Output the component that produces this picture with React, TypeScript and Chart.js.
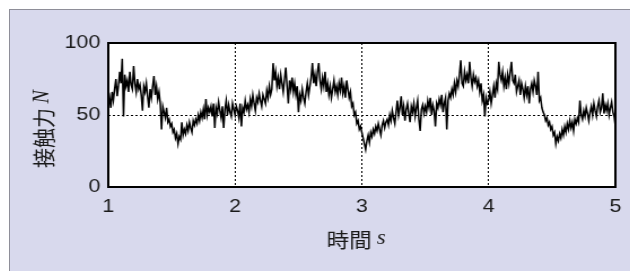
import React, { useEffect, useRef } from "react";
import { Chart, registerables } from "chart.js";

Chart.register(...registerables);

// sample grid of the recorded signal (seconds)
const T_START = 1;
const T_STEP = 0.01;

// contact force [N], every 0.01 s from 1.00 s to 5.00 s (one row = 0.1 s)
const forceN: number[] = [
  57, 62, 55, 66, 60, 68, 75, 63, 70, 80,
  72, 89, 49, 78, 70, 74, 66, 80, 71, 68,
  84, 72, 66, 75, 68, 71, 64, 53, 70, 66,
  72, 63, 55, 68, 62, 70, 77, 64, 70, 61,
  66, 58, 40, 56, 52, 48, 55, 45, 47, 42,
  44, 38, 40, 34, 37, 30, 35, 33, 45, 36,
  40, 37, 43, 39, 45, 41, 38, 46, 43, 47,
  44, 50, 46, 52, 48, 54, 47, 61, 50, 55,
  52, 56, 49, 58, 41, 55, 51, 59, 53, 48,
  56, 41, 54, 60, 50, 57, 52, 49, 58, 54,
  50, 56, 53, 48, 58, 42, 55, 52, 60, 54,
  57, 52, 61, 56, 64, 58, 53, 62, 59, 65,
  60, 56, 64, 61, 58, 67, 62, 70, 64, 68,
  86, 74, 80, 70, 76, 68, 78, 72, 66, 75,
  83, 70, 58, 74, 68, 76, 66, 72, 64, 70,
  52, 64, 60, 68, 62, 58, 66, 72, 64, 70,
  76, 86, 72, 78, 70, 80, 86, 74, 68, 76,
  70, 80, 66, 72, 64, 70, 62, 68, 74, 66,
  70, 64, 72, 67, 76, 65, 70, 62, 74, 68,
  62, 66, 56, 58, 50, 52, 44, 46, 40, 42,
  38, 34, 30, 26, 32, 36, 31, 38, 35, 40,
  37, 42, 39, 44, 40, 36, 43, 46, 41, 45,
  47, 43, 50, 46, 53, 48, 44, 52, 60, 50,
  55, 63, 50, 56, 46, 54, 58, 51, 45, 56,
  52, 58, 49, 55, 60, 47, 39, 54, 57, 51,
  56, 52, 60, 55, 62, 50, 57, 53, 42, 58,
  55, 61, 57, 64, 52, 58, 62, 40, 60, 65,
  62, 68, 64, 72, 66, 74, 70, 78, 88, 72,
  70, 80, 74, 78, 72, 87, 76, 70, 78, 73,
  76, 70, 74, 66, 72, 60, 64, 49, 62, 58,
  60, 66, 58, 64, 70, 62, 72, 68, 87, 78,
  74, 80, 70, 76, 68, 78, 72, 80, 87, 74,
  72, 78, 66, 70, 74, 64, 72, 68, 62, 70,
  64, 70, 58, 68, 72, 66, 74, 70, 64, 80,
  60, 62, 55, 52, 50, 46, 48, 43, 45, 40,
  42, 36, 38, 30, 35, 32, 37, 34, 40, 36,
  42, 38, 44, 40, 46, 41, 45, 39, 47, 44,
  48, 45, 60, 50, 47, 53, 49, 55, 51, 46,
  52, 56, 50, 58, 53, 49, 56, 60, 52, 55,
  65, 51, 57, 53, 58, 50, 55, 59, 52, 49,
  42,
];

const xTicks = [1, 2, 3, 4, 5];
const yTicks = [0, 50, 100];
const xGridMarks = [2, 3, 4];
const yGridMarks = [50];

const yTitleCJK = "接触力";
const yTitleVar = "N";
const xTitleCJK = "時間";
const xTitleVar = "s";

// the figure is shown horizontally stretched
const SX = 1.13;
const CSS_W = 628;
const CSS_H = 261;
const CANVAS_W = Math.round(CSS_W / SX);

const CJK_FONT = '20px "Noto Sans CJK JP", sans-serif';
const VAR_FONT = 'italic 20px "Liberation Serif", "DejaVu Serif", serif';

const titlesPlugin = {
  id: "mixedTitles",
  afterDraw(chart: any) {
    const { ctx, chartArea } = chart;
    const a = chartArea;
    ctx.save();
    ctx.fillStyle = "#1a1a1a";
    ctx.textBaseline = "middle";
    ctx.textAlign = "left";
    // x title
    ctx.font = CJK_FONT;
    const w1 = ctx.measureText(xTitleCJK + " ").width;
    ctx.font = VAR_FONT;
    const w2 = ctx.measureText(xTitleVar).width;
    const cx = (a.left + a.right) / 2 - 5;
    const cy = a.bottom + 53;
    let x0 = cx - (w1 + w2) / 2;
    ctx.font = CJK_FONT;
    ctx.fillText(xTitleCJK + " ", x0, cy);
    ctx.font = VAR_FONT;
    ctx.fillText(xTitleVar, x0 + w1, cy - 1);
    // y title (rotated)
    ctx.font = CJK_FONT;
    const v1 = ctx.measureText(yTitleCJK + " ").width;
    ctx.font = VAR_FONT;
    const v2 = ctx.measureText(yTitleVar).width;
    ctx.translate(a.left - 57, (a.top + a.bottom) / 2 + 14);
    ctx.rotate(-Math.PI / 2);
    x0 = -(v1 + v2) / 2;
    ctx.font = CJK_FONT;
    ctx.fillText(yTitleCJK + " ", x0, 0);
    ctx.font = VAR_FONT;
    ctx.fillText(yTitleVar, x0 + v1, -1);
    ctx.restore();
  },
};

const framePlugin = {
  id: "plotFrame",
  beforeDraw(chart: any) {
    const { ctx, chartArea: a } = chart;
    ctx.save();
    ctx.fillStyle = "#ffffff";
    ctx.fillRect(a.left, a.top, a.right - a.left, a.bottom - a.top);
    ctx.restore();
  },
  afterDraw(chart: any) {
    const { ctx, chartArea: a } = chart;
    ctx.save();
    ctx.strokeStyle = "#000";
    ctx.lineWidth = 2;
    ctx.strokeRect(a.left, a.top, a.right - a.left, a.bottom - a.top);
    ctx.restore();
  },
};

export default function App() {
  const ref = useRef<HTMLCanvasElement | null>(null);
  useEffect(() => {
    if (!ref.current) return;
    const points = forceN.map((v, i) => ({ x: T_START + i * T_STEP, y: v }));
    const chart = new Chart(ref.current, {
      type: "line",
      data: {
        datasets: [
          {
            data: points,
            borderColor: "#000",
            borderWidth: 1.5,
            pointRadius: 0,
            tension: 0,
            clip: 2,
          },
        ],
      },
      options: {
        responsive: false,
        animation: false,
        events: [],
        layout: { padding: { left: 0, top: 33, right: CANVAS_W - 536, bottom: 0 } },
        plugins: { legend: { display: false }, tooltip: { enabled: false } },
        scales: {
          x: {
            type: "linear",
            min: xTicks[0],
            max: xTicks[xTicks.length - 1],
            afterBuildTicks: (s: any) => {
              s.ticks = xTicks.map((v) => ({ value: v }));
            },
            afterFit: (s: any) => {
              s.height = 84;
            },
            border: { display: false, dash: [2, 2] },
            grid: {
              drawTicks: false,
              lineWidth: 1,
              color: (c: any) =>
                xGridMarks.includes(c.tick?.value) ? "#000" : "transparent",
            },
            ticks: {
              padding: 8,
              color: "#1a1a1a",
              font: { family: '"Liberation Sans", Arial, sans-serif', size: 19 },
              maxRotation: 0,
            },
          },
          y: {
            type: "linear",
            min: yTicks[0],
            max: yTicks[yTicks.length - 1],
            afterBuildTicks: (s: any) => {
              s.ticks = yTicks.map((v) => ({ value: v }));
            },
            afterFit: (s: any) => {
              s.width = 87;
            },
            border: { display: false, dash: [2, 2] },
            grid: {
              drawTicks: false,
              lineWidth: 1,
              color: (c: any) =>
                yGridMarks.includes(c.tick?.value) ? "#000" : "transparent",
            },
            ticks: {
              padding: 7,
              color: "#1a1a1a",
              font: { family: '"Liberation Sans", Arial, sans-serif', size: 19 },
            },
          },
        },
      },
      plugins: [framePlugin, titlesPlugin],
    });
    return () => chart.destroy();
  }, []);

  return (
    <div
      style={{
        width: 630,
        height: 263,
        overflow: "hidden",
        paddingLeft: 1,
        paddingTop: 1,
        boxSizing: "border-box",
      }}
    >
      <div
        style={{
          position: "relative",
          width: 700,
          height: 320,
          background: "#d8d9ed",
          border: "1px solid #8e8e98",
          boxSizing: "border-box",
        }}
      >
        <canvas
          ref={ref}
          width={CANVAS_W}
          height={CSS_H}
          style={{
            position: "absolute",
            left: 0,
            top: 0,
            width: CSS_W + "px",
            height: CSS_H + "px",
          }}
        />
      </div>
    </div>
  );
}
